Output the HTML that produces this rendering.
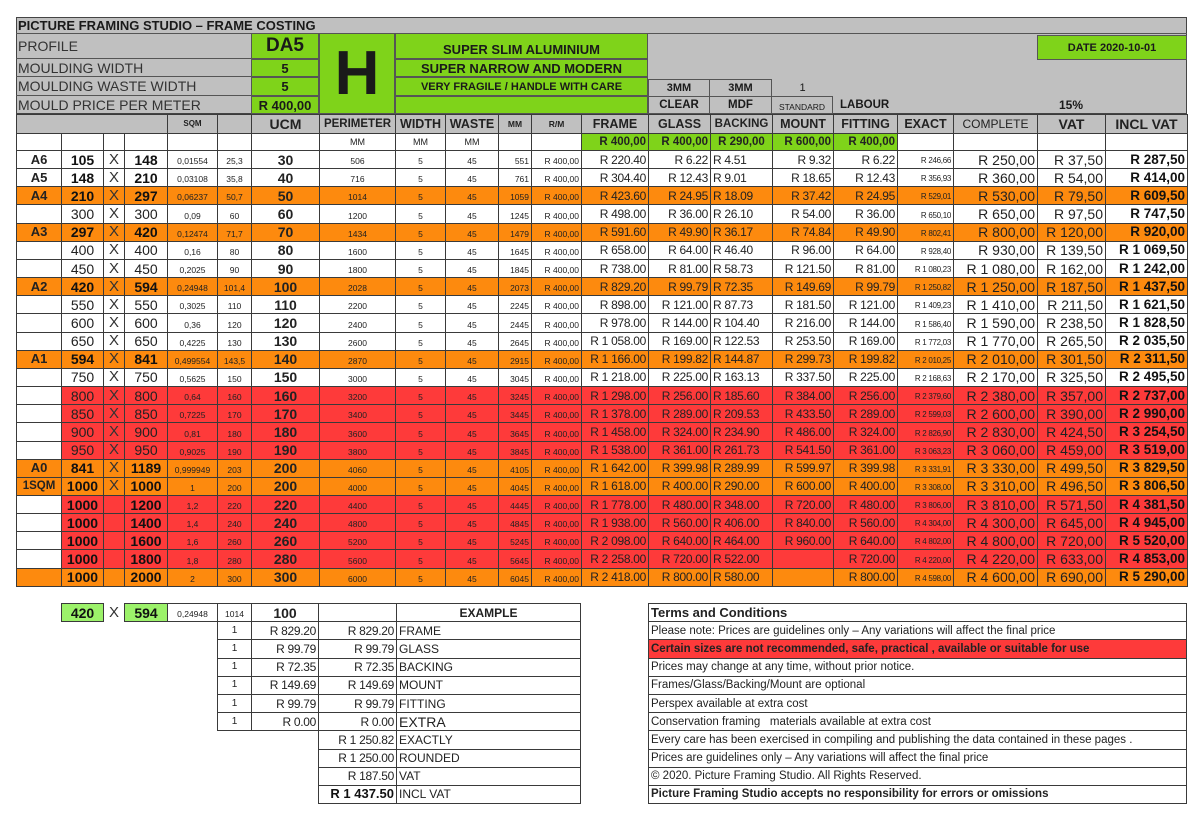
<!DOCTYPE html>
<html><head><meta charset="utf-8"><style>
*{margin:0;padding:0;box-sizing:border-box}
body{width:1200px;height:815px;background:#fff;font-family:"Liberation Sans",sans-serif;color:#1a1a1a;position:relative;overflow:hidden}
.a{position:absolute;display:flex;align-items:center;white-space:nowrap;overflow:hidden}
.g{background:#7fd31a}
.gr{background:#c0c0c0}
.bd{border:1px solid #444}
table{border-collapse:collapse;table-layout:fixed;position:absolute}
td{border:1px solid #3a3a3a;padding:0 2px;white-space:nowrap;overflow:hidden;text-align:center;font-size:12px;line-height:14px;color:#222}
#m tr.d{height:18.17px}
.w td{background:#fff}.o td{background:#fd8a0e}.rd td{background:#fe3a3a}
td.wb{background:#fff}
.lab{font-weight:bold;font-size:13px}
.sz{font-size:14px;color:#222}.b{font-weight:bold;color:#111}
.x{font-size:15px;color:#333}
.s9{font-size:8.5px;vertical-align:bottom}
.u{font-weight:bold;font-size:14px}
.p{font-size:12px;text-align:right;letter-spacing:-0.3px}
.l{text-align:left}
.r{text-align:right}
.ex{font-size:8px;text-align:right;vertical-align:bottom;letter-spacing:-0.3px}
.cp{font-size:14px;text-align:right}
.iv{font-size:13.5px;font-weight:bold;text-align:right;color:#111}
.h td{font-weight:bold;font-size:12.5px;background:#c0c0c0}
.mm td{background:#fff;font-size:9px}
.mm td.gc{background:#7fd31a;font-weight:bold;font-size:11.5px;text-align:right}
#t td{text-align:left;font-size:11.5px;padding-left:2px;height:18.2px}
#e td{height:18.2px}
td.n{border:none;background:none}
</style></head><body>
<div class="a gr bd" style="left:16px;top:17px;width:1171px;height:97px"></div>
<div class="a" style="left:18px;top:17px;height:16px;font-weight:bold;font-size:13px">PICTURE FRAMING STUDIO – FRAME COSTING</div>
<div class="a" style="left:16px;top:33px;width:1171px;border-top:1px solid #555"></div>
<div class="a" style="left:16px;top:33px;width:235px;height:26px;border-bottom:1px solid #555;font-size:14px;color:#333;padding-left:2px">PROFILE</div>
<div class="a" style="left:16px;top:59px;width:235px;height:18px;border-bottom:1px solid #555;font-size:14px;color:#333;padding-left:2px">MOULDING WIDTH</div>
<div class="a" style="left:16px;top:77px;width:235px;height:19px;border-bottom:1px solid #555;font-size:14px;color:#333;padding-left:2px">MOULDING WASTE WIDTH</div>
<div class="a" style="left:16px;top:96px;width:235px;height:18px;font-size:14px;color:#333;padding-left:2px">MOULD PRICE PER METER</div>
<div class="a g" style="left:251px;top:33px;width:68px;height:26px;border:1px solid #555;justify-content:center;font-weight:bold;font-size:19px">DA5</div>
<div class="a g" style="left:251px;top:59px;width:68px;height:18px;border:1px solid #555;justify-content:center;font-weight:bold;font-size:13px">5</div>
<div class="a g" style="left:251px;top:77px;width:68px;height:19px;border:1px solid #555;justify-content:center;font-weight:bold;font-size:13px">5</div>
<div class="a g" style="left:251px;top:96px;width:68px;height:18px;border:1px solid #555;justify-content:center;font-weight:bold;font-size:13px">R 400,00</div>
<div class="a g" style="left:319px;top:33px;width:76px;height:81px;border:1px solid #555;justify-content:center;font-weight:bold;font-size:62px">H</div>
<div class="a g" style="left:395px;top:33px;width:253px;height:26px;border:1px solid #555;justify-content:center;font-weight:bold;font-size:13px;padding-top:6px">SUPER SLIM ALUMINIUM</div>
<div class="a g" style="left:395px;top:59px;width:253px;height:18px;border:1px solid #555;justify-content:center;font-weight:bold;font-size:13px">SUPER NARROW AND MODERN</div>
<div class="a g" style="left:395px;top:77px;width:253px;height:19px;border:1px solid #555;justify-content:center;font-weight:bold;font-size:11px">VERY FRAGILE / HANDLE WITH CARE</div>
<div class="a g" style="left:395px;top:96px;width:253px;height:18px;border:1px solid #555"></div>
<div class="a g" style="left:1037px;top:35px;width:150px;height:25px;border:1px solid #555;justify-content:center;font-weight:bold;font-size:11px">DATE 2020-10-01</div>
<div class="a" style="left:648px;top:79px;width:62px;height:18px;border:1px solid #555;justify-content:center;font-weight:bold;font-size:11px">3MM</div>
<div class="a" style="left:709px;top:79px;width:63px;height:18px;border:1px solid #555;justify-content:center;font-weight:bold;font-size:11px">3MM</div>
<div class="a" style="left:772px;top:79px;width:61px;height:18px;justify-content:center;font-size:11px">1</div>
<div class="a" style="left:648px;top:96px;width:62px;height:18px;border:1px solid #555;justify-content:center;font-weight:bold;font-size:11.5px">CLEAR</div>
<div class="a" style="left:709px;top:96px;width:63px;height:18px;border:1px solid #555;justify-content:center;font-weight:bold;font-size:11.5px">MDF</div>
<div class="a" style="left:771px;top:96px;width:62px;height:18px;border:1px solid #555;justify-content:center;font-size:8.5px;padding-top:3px">STANDARD</div>
<div class="a" style="left:840px;top:96px;height:18px;font-weight:bold;font-size:11.5px">LABOUR</div>
<div class="a" style="left:1037px;top:96px;width:68px;height:18px;justify-content:center;font-weight:bold;font-size:12px">15%</div>

<table id="m" style="left:16px;top:114px;width:1171px">
<colgroup><col style="width:45px"><col style="width:42px"><col style="width:21px"><col style="width:43px"><col style="width:50px"><col style="width:34px"><col style="width:68px"><col style="width:76px"><col style="width:50px"><col style="width:53px"><col style="width:33px"><col style="width:50px"><col style="width:67px"><col style="width:62px"><col style="width:62px"><col style="width:61px"><col style="width:64px"><col style="width:56px"><col style="width:84px"><col style="width:68px"><col style="width:82px"></colgroup>
<tr class="h" style="height:19px"><td colspan="4"></td><td style="font-size:8px">SQM</td><td></td><td style="font-size:14px">UCM</td><td style="font-size:11.5px">PERIMETER</td><td>WIDTH</td><td>WASTE</td><td style="font-size:8.5px">MM</td><td style="font-size:8.5px">R/M</td><td>FRAME</td><td>GLASS</td><td style="font-size:11.5px">BACKING</td><td>MOUNT</td><td>FITTING</td><td>EXACT</td><td style="font-weight:normal;font-size:12px">COMPLETE</td><td style="font-size:14px">VAT</td><td style="font-size:14px">INCL VAT</td></tr>
<tr class="mm" style="height:17px"><td></td><td></td><td></td><td></td><td></td><td></td><td></td><td>MM</td><td>MM</td><td>MM</td><td></td><td></td><td class="gc">R 400,00</td><td class="gc">R 400,00</td><td class="gc" style="text-align:center">R 290,00</td><td class="gc">R 600,00</td><td class="gc">R 400,00</td><td></td><td></td><td></td><td></td></tr>
<tr class="d w"><td class="lab">A6</td><td class="sz b">105</td><td class="x">X</td><td class="sz b">148</td><td class="s9">0,01554</td><td class="s9">25,3</td><td class="u">30</td><td class="s9">506</td><td class="s9">5</td><td class="s9">45</td><td class="s9 r">551</td><td class="s9 r">R 400,00</td><td class="p">R 220.40</td><td class="p">R 6.22</td><td class="p l">R 4.51</td><td class="p">R 9.32</td><td class="p">R 6.22</td><td class="ex">R 246,66</td><td class="cp">R 250,00</td><td class="cp">R 37,50</td><td class="iv">R 287,50</td></tr>
<tr class="d w"><td class="lab">A5</td><td class="sz b">148</td><td class="x">X</td><td class="sz b">210</td><td class="s9">0,03108</td><td class="s9">35,8</td><td class="u">40</td><td class="s9">716</td><td class="s9">5</td><td class="s9">45</td><td class="s9 r">761</td><td class="s9 r">R 400,00</td><td class="p">R 304.40</td><td class="p">R 12.43</td><td class="p l">R 9.01</td><td class="p">R 18.65</td><td class="p">R 12.43</td><td class="ex">R 356,93</td><td class="cp">R 360,00</td><td class="cp">R 54,00</td><td class="iv">R 414,00</td></tr>
<tr class="d o"><td class="lab">A4</td><td class="sz b">210</td><td class="x">X</td><td class="sz b">297</td><td class="s9">0,06237</td><td class="s9">50,7</td><td class="u">50</td><td class="s9">1014</td><td class="s9">5</td><td class="s9">45</td><td class="s9 r">1059</td><td class="s9 r">R 400,00</td><td class="p">R 423.60</td><td class="p">R 24.95</td><td class="p l">R 18.09</td><td class="p">R 37.42</td><td class="p">R 24.95</td><td class="ex">R 529,01</td><td class="cp">R 530,00</td><td class="cp">R 79,50</td><td class="iv">R 609,50</td></tr>
<tr class="d w"><td class="lab"></td><td class="sz">300</td><td class="x">X</td><td class="sz">300</td><td class="s9">0,09</td><td class="s9">60</td><td class="u">60</td><td class="s9">1200</td><td class="s9">5</td><td class="s9">45</td><td class="s9 r">1245</td><td class="s9 r">R 400,00</td><td class="p">R 498.00</td><td class="p">R 36.00</td><td class="p l">R 26.10</td><td class="p">R 54.00</td><td class="p">R 36.00</td><td class="ex">R 650,10</td><td class="cp">R 650,00</td><td class="cp">R 97,50</td><td class="iv">R 747,50</td></tr>
<tr class="d o"><td class="lab">A3</td><td class="sz b">297</td><td class="x">X</td><td class="sz b">420</td><td class="s9">0,12474</td><td class="s9">71,7</td><td class="u">70</td><td class="s9">1434</td><td class="s9">5</td><td class="s9">45</td><td class="s9 r">1479</td><td class="s9 r">R 400,00</td><td class="p">R 591.60</td><td class="p">R 49.90</td><td class="p l">R 36.17</td><td class="p">R 74.84</td><td class="p">R 49.90</td><td class="ex">R 802,41</td><td class="cp">R 800,00</td><td class="cp">R 120,00</td><td class="iv">R 920,00</td></tr>
<tr class="d w"><td class="lab"></td><td class="sz">400</td><td class="x">X</td><td class="sz">400</td><td class="s9">0,16</td><td class="s9">80</td><td class="u">80</td><td class="s9">1600</td><td class="s9">5</td><td class="s9">45</td><td class="s9 r">1645</td><td class="s9 r">R 400,00</td><td class="p">R 658.00</td><td class="p">R 64.00</td><td class="p l">R 46.40</td><td class="p">R 96.00</td><td class="p">R 64.00</td><td class="ex">R 928,40</td><td class="cp">R 930,00</td><td class="cp">R 139,50</td><td class="iv">R 1 069,50</td></tr>
<tr class="d w"><td class="lab"></td><td class="sz">450</td><td class="x">X</td><td class="sz">450</td><td class="s9">0,2025</td><td class="s9">90</td><td class="u">90</td><td class="s9">1800</td><td class="s9">5</td><td class="s9">45</td><td class="s9 r">1845</td><td class="s9 r">R 400,00</td><td class="p">R 738.00</td><td class="p">R 81.00</td><td class="p l">R 58.73</td><td class="p">R 121.50</td><td class="p">R 81.00</td><td class="ex">R 1 080,23</td><td class="cp">R 1 080,00</td><td class="cp">R 162,00</td><td class="iv">R 1 242,00</td></tr>
<tr class="d o"><td class="lab">A2</td><td class="sz b">420</td><td class="x">X</td><td class="sz b">594</td><td class="s9">0,24948</td><td class="s9">101,4</td><td class="u">100</td><td class="s9">2028</td><td class="s9">5</td><td class="s9">45</td><td class="s9 r">2073</td><td class="s9 r">R 400,00</td><td class="p">R 829.20</td><td class="p">R 99.79</td><td class="p l">R 72.35</td><td class="p">R 149.69</td><td class="p">R 99.79</td><td class="ex">R 1 250,82</td><td class="cp">R 1 250,00</td><td class="cp">R 187,50</td><td class="iv">R 1 437,50</td></tr>
<tr class="d w"><td class="lab"></td><td class="sz">550</td><td class="x">X</td><td class="sz">550</td><td class="s9">0,3025</td><td class="s9">110</td><td class="u">110</td><td class="s9">2200</td><td class="s9">5</td><td class="s9">45</td><td class="s9 r">2245</td><td class="s9 r">R 400,00</td><td class="p">R 898.00</td><td class="p">R 121.00</td><td class="p l">R 87.73</td><td class="p">R 181.50</td><td class="p">R 121.00</td><td class="ex">R 1 409,23</td><td class="cp">R 1 410,00</td><td class="cp">R 211,50</td><td class="iv">R 1 621,50</td></tr>
<tr class="d w"><td class="lab"></td><td class="sz">600</td><td class="x">X</td><td class="sz">600</td><td class="s9">0,36</td><td class="s9">120</td><td class="u">120</td><td class="s9">2400</td><td class="s9">5</td><td class="s9">45</td><td class="s9 r">2445</td><td class="s9 r">R 400,00</td><td class="p">R 978.00</td><td class="p">R 144.00</td><td class="p l">R 104.40</td><td class="p">R 216.00</td><td class="p">R 144.00</td><td class="ex">R 1 586,40</td><td class="cp">R 1 590,00</td><td class="cp">R 238,50</td><td class="iv">R 1 828,50</td></tr>
<tr class="d w"><td class="lab"></td><td class="sz">650</td><td class="x">X</td><td class="sz">650</td><td class="s9">0,4225</td><td class="s9">130</td><td class="u">130</td><td class="s9">2600</td><td class="s9">5</td><td class="s9">45</td><td class="s9 r">2645</td><td class="s9 r">R 400,00</td><td class="p">R 1 058.00</td><td class="p">R 169.00</td><td class="p l">R 122.53</td><td class="p">R 253.50</td><td class="p">R 169.00</td><td class="ex">R 1 772,03</td><td class="cp">R 1 770,00</td><td class="cp">R 265,50</td><td class="iv">R 2 035,50</td></tr>
<tr class="d o"><td class="lab">A1</td><td class="sz b">594</td><td class="x">X</td><td class="sz b">841</td><td class="s9">0,499554</td><td class="s9">143,5</td><td class="u">140</td><td class="s9">2870</td><td class="s9">5</td><td class="s9">45</td><td class="s9 r">2915</td><td class="s9 r">R 400,00</td><td class="p">R 1 166.00</td><td class="p">R 199.82</td><td class="p l">R 144.87</td><td class="p">R 299.73</td><td class="p">R 199.82</td><td class="ex">R 2 010,25</td><td class="cp">R 2 010,00</td><td class="cp">R 301,50</td><td class="iv">R 2 311,50</td></tr>
<tr class="d w"><td class="lab"></td><td class="sz">750</td><td class="x">X</td><td class="sz">750</td><td class="s9">0,5625</td><td class="s9">150</td><td class="u">150</td><td class="s9">3000</td><td class="s9">5</td><td class="s9">45</td><td class="s9 r">3045</td><td class="s9 r">R 400,00</td><td class="p">R 1 218.00</td><td class="p">R 225.00</td><td class="p l">R 163.13</td><td class="p">R 337.50</td><td class="p">R 225.00</td><td class="ex">R 2 168,63</td><td class="cp">R 2 170,00</td><td class="cp">R 325,50</td><td class="iv">R 2 495,50</td></tr>
<tr class="d rd"><td class="lab wb"></td><td class="sz">800</td><td class="x">X</td><td class="sz">800</td><td class="s9">0,64</td><td class="s9">160</td><td class="u">160</td><td class="s9">3200</td><td class="s9">5</td><td class="s9">45</td><td class="s9 r">3245</td><td class="s9 r">R 400,00</td><td class="p">R 1 298.00</td><td class="p">R 256.00</td><td class="p l">R 185.60</td><td class="p">R 384.00</td><td class="p">R 256.00</td><td class="ex">R 2 379,60</td><td class="cp">R 2 380,00</td><td class="cp">R 357,00</td><td class="iv">R 2 737,00</td></tr>
<tr class="d rd"><td class="lab wb"></td><td class="sz">850</td><td class="x">X</td><td class="sz">850</td><td class="s9">0,7225</td><td class="s9">170</td><td class="u">170</td><td class="s9">3400</td><td class="s9">5</td><td class="s9">45</td><td class="s9 r">3445</td><td class="s9 r">R 400,00</td><td class="p">R 1 378.00</td><td class="p">R 289.00</td><td class="p l">R 209.53</td><td class="p">R 433.50</td><td class="p">R 289.00</td><td class="ex">R 2 599,03</td><td class="cp">R 2 600,00</td><td class="cp">R 390,00</td><td class="iv">R 2 990,00</td></tr>
<tr class="d rd"><td class="lab wb"></td><td class="sz">900</td><td class="x">X</td><td class="sz">900</td><td class="s9">0,81</td><td class="s9">180</td><td class="u">180</td><td class="s9">3600</td><td class="s9">5</td><td class="s9">45</td><td class="s9 r">3645</td><td class="s9 r">R 400,00</td><td class="p">R 1 458.00</td><td class="p">R 324.00</td><td class="p l">R 234.90</td><td class="p">R 486.00</td><td class="p">R 324.00</td><td class="ex">R 2 826,90</td><td class="cp">R 2 830,00</td><td class="cp">R 424,50</td><td class="iv">R 3 254,50</td></tr>
<tr class="d rd"><td class="lab wb"></td><td class="sz">950</td><td class="x">X</td><td class="sz">950</td><td class="s9">0,9025</td><td class="s9">190</td><td class="u">190</td><td class="s9">3800</td><td class="s9">5</td><td class="s9">45</td><td class="s9 r">3845</td><td class="s9 r">R 400,00</td><td class="p">R 1 538.00</td><td class="p">R 361.00</td><td class="p l">R 261.73</td><td class="p">R 541.50</td><td class="p">R 361.00</td><td class="ex">R 3 063,23</td><td class="cp">R 3 060,00</td><td class="cp">R 459,00</td><td class="iv">R 3 519,00</td></tr>
<tr class="d o"><td class="lab">A0</td><td class="sz b">841</td><td class="x">X</td><td class="sz b">1189</td><td class="s9">0,999949</td><td class="s9">203</td><td class="u">200</td><td class="s9">4060</td><td class="s9">5</td><td class="s9">45</td><td class="s9 r">4105</td><td class="s9 r">R 400,00</td><td class="p">R 1 642.00</td><td class="p">R 399.98</td><td class="p l">R 289.99</td><td class="p">R 599.97</td><td class="p">R 399.98</td><td class="ex">R 3 331,91</td><td class="cp">R 3 330,00</td><td class="cp">R 499,50</td><td class="iv">R 3 829,50</td></tr>
<tr class="d o"><td class="lab" style="font-size:11.5px">1SQM</td><td class="sz b">1000</td><td class="x">X</td><td class="sz b">1000</td><td class="s9">1</td><td class="s9">200</td><td class="u">200</td><td class="s9">4000</td><td class="s9">5</td><td class="s9">45</td><td class="s9 r">4045</td><td class="s9 r">R 400,00</td><td class="p">R 1 618.00</td><td class="p">R 400.00</td><td class="p l">R 290.00</td><td class="p">R 600.00</td><td class="p">R 400.00</td><td class="ex">R 3 308,00</td><td class="cp">R 3 310,00</td><td class="cp">R 496,50</td><td class="iv">R 3 806,50</td></tr>
<tr class="d rd"><td class="lab wb"></td><td class="sz b">1000</td><td class="x"></td><td class="sz b">1200</td><td class="s9">1,2</td><td class="s9">220</td><td class="u">220</td><td class="s9">4400</td><td class="s9">5</td><td class="s9">45</td><td class="s9 r">4445</td><td class="s9 r">R 400,00</td><td class="p">R 1 778.00</td><td class="p">R 480.00</td><td class="p l">R 348.00</td><td class="p">R 720.00</td><td class="p">R 480.00</td><td class="ex">R 3 806,00</td><td class="cp">R 3 810,00</td><td class="cp">R 571,50</td><td class="iv">R 4 381,50</td></tr>
<tr class="d rd"><td class="lab wb"></td><td class="sz b">1000</td><td class="x"></td><td class="sz b">1400</td><td class="s9">1,4</td><td class="s9">240</td><td class="u">240</td><td class="s9">4800</td><td class="s9">5</td><td class="s9">45</td><td class="s9 r">4845</td><td class="s9 r">R 400,00</td><td class="p">R 1 938.00</td><td class="p">R 560.00</td><td class="p l">R 406.00</td><td class="p">R 840.00</td><td class="p">R 560.00</td><td class="ex">R 4 304,00</td><td class="cp">R 4 300,00</td><td class="cp">R 645,00</td><td class="iv">R 4 945,00</td></tr>
<tr class="d rd"><td class="lab wb"></td><td class="sz b">1000</td><td class="x"></td><td class="sz b">1600</td><td class="s9">1,6</td><td class="s9">260</td><td class="u">260</td><td class="s9">5200</td><td class="s9">5</td><td class="s9">45</td><td class="s9 r">5245</td><td class="s9 r">R 400,00</td><td class="p">R 2 098.00</td><td class="p">R 640.00</td><td class="p l">R 464.00</td><td class="p">R 960.00</td><td class="p">R 640.00</td><td class="ex">R 4 802,00</td><td class="cp">R 4 800,00</td><td class="cp">R 720,00</td><td class="iv">R 5 520,00</td></tr>
<tr class="d rd"><td class="lab wb"></td><td class="sz b">1000</td><td class="x"></td><td class="sz b">1800</td><td class="s9">1,8</td><td class="s9">280</td><td class="u">280</td><td class="s9">5600</td><td class="s9">5</td><td class="s9">45</td><td class="s9 r">5645</td><td class="s9 r">R 400,00</td><td class="p">R 2 258.00</td><td class="p">R 720.00</td><td class="p l">R 522.00</td><td class="p"></td><td class="p">R 720.00</td><td class="ex">R 4 220,00</td><td class="cp">R 4 220,00</td><td class="cp">R 633,00</td><td class="iv">R 4 853,00</td></tr>
<tr class="d o"><td class="lab"></td><td class="sz b">1000</td><td class="x"></td><td class="sz b">2000</td><td class="s9">2</td><td class="s9">300</td><td class="u">300</td><td class="s9">6000</td><td class="s9">5</td><td class="s9">45</td><td class="s9 r">6045</td><td class="s9 r">R 400,00</td><td class="p">R 2 418.00</td><td class="p">R 800.00</td><td class="p l">R 580.00</td><td class="p"></td><td class="p">R 800.00</td><td class="ex">R 4 598,00</td><td class="cp">R 4 600,00</td><td class="cp">R 690,00</td><td class="iv">R 5 290,00</td></tr>
</table>

<table id="e" style="left:61px;top:603px;width:519px">
<colgroup><col style="width:42px"><col style="width:21px"><col style="width:43px"><col style="width:50px"><col style="width:34px"><col style="width:67px"><col style="width:78px"><col style="width:184px"></colgroup>
<tr><td class="sz b" style="background:#9cf26a">420</td><td class="x n">X</td><td class="sz b" style="background:#9cf26a">594</td><td class="s9">0,24948</td><td class="s9">1014</td><td class="u">100</td><td></td><td style="font-weight:bold;font-size:12px">EXAMPLE</td></tr>
<tr><td class="n"></td><td class="n"></td><td class="n"></td><td class="n"></td><td style="font-size:10px">1</td><td class="p">R 829.20</td><td class="p">R 829.20</td><td class="l" style="font-size:12px">FRAME</td></tr>
<tr><td class="n"></td><td class="n"></td><td class="n"></td><td class="n"></td><td style="font-size:10px">1</td><td class="p">R 99.79</td><td class="p">R 99.79</td><td class="l" style="font-size:12px">GLASS</td></tr>
<tr><td class="n"></td><td class="n"></td><td class="n"></td><td class="n"></td><td style="font-size:10px">1</td><td class="p">R 72.35</td><td class="p">R 72.35</td><td class="l" style="font-size:12px">BACKING</td></tr>
<tr><td class="n"></td><td class="n"></td><td class="n"></td><td class="n"></td><td style="font-size:10px">1</td><td class="p">R 149.69</td><td class="p">R 149.69</td><td class="l" style="font-size:12px">MOUNT</td></tr>
<tr><td class="n"></td><td class="n"></td><td class="n"></td><td class="n"></td><td style="font-size:10px">1</td><td class="p">R 99.79</td><td class="p">R 99.79</td><td class="l" style="font-size:12px">FITTING</td></tr>
<tr><td class="n"></td><td class="n"></td><td class="n"></td><td class="n"></td><td style="font-size:10px">1</td><td class="p">R 0.00</td><td class="p">R 0.00</td><td class="l" style="font-size:14px">EXTRA</td></tr>
<tr><td class="n"></td><td class="n"></td><td class="n"></td><td class="n"></td><td class="n"></td><td class="n" style="border-right:1px solid #3a3a3a"></td><td class="p">R 1 250.82</td><td class="l" style="font-size:12px">EXACTLY</td></tr>
<tr><td class="n"></td><td class="n"></td><td class="n"></td><td class="n"></td><td class="n"></td><td class="n" style="border-right:1px solid #3a3a3a"></td><td class="p">R 1 250.00</td><td class="l" style="font-size:12px">ROUNDED</td></tr>
<tr><td class="n"></td><td class="n"></td><td class="n"></td><td class="n"></td><td class="n"></td><td class="n" style="border-right:1px solid #3a3a3a"></td><td class="p">R 187.50</td><td class="l" style="font-size:12px">VAT</td></tr>
<tr><td class="n"></td><td class="n"></td><td class="n"></td><td class="n"></td><td class="n"></td><td class="n" style="border-right:1px solid #3a3a3a"></td><td class="iv" style="font-size:13px">R 1 437.50</td><td class="l" style="font-size:12px">INCL VAT</td></tr>
</table>

<table id="t" style="left:648px;top:603px;width:539px">
<tr><td style="font-weight:bold;font-size:13px">Terms and Conditions</td></tr>
<tr><td>Please note: Prices are guidelines only – Any variations will affect the final price</td></tr>
<tr><td style="background:#fe3a3a;font-weight:bold">Certain sizes are not recommended, safe, practical , available or suitable for use</td></tr>
<tr><td>Prices may change at any time, without prior notice.</td></tr>
<tr><td>Frames/Glass/Backing/Mount are optional</td></tr>
<tr><td>Perspex available at extra cost</td></tr>
<tr><td>Conservation framing &nbsp; materials available at extra cost</td></tr>
<tr><td>Every care has been exercised in compiling and publishing the data contained in these pages .</td></tr>
<tr><td>Prices are guidelines only – Any variations will affect the final price</td></tr>
<tr><td>© 2020. Picture Framing Studio. All Rights Reserved.</td></tr>
<tr><td style="font-weight:bold">Picture Framing Studio accepts no responsibility for errors or omissions</td></tr>
</table>
</body></html>
